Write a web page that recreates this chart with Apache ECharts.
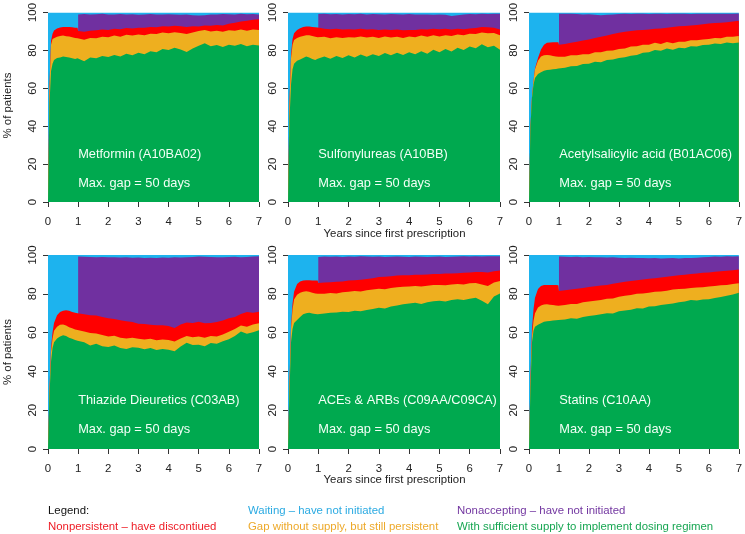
<!DOCTYPE html>
<html>
<head>
<meta charset="utf-8">
<script src="https://cdn.jsdelivr.net/npm/echarts@6/dist/echarts.min.js"></script>
<style>
html,body{margin:0;padding:0;background:#fff;}
#chart{width:745px;height:534px;}
</style>
</head>
<body>
<div id="chart"></div>
<script>
// ---------- data ----------
const xTicks = [0, 1, 2, 3, 4, 5, 6, 7];
const yTicks = [0, 20, 40, 60, 80, 100];
const xs = [0,0.05,0.1,0.15,0.2,0.3,0.4,0.5,0.6,0.7,0.8,0.9,0.98,
  1,1.2,1.4,1.6,1.8,2,2.2,2.4,2.6,2.8,3,3.2,3.4,3.6,3.8,4,4.2,4.4,4.6,4.8,5,5.2,5.4,5.6,5.8,6,6.2,6.4,6.6,6.8,7];
const xsAfterYear1 = [1,1.2,1.4,1.6,1.8,2,2.2,2.4,2.6,2.8,3,3.2,3.4,3.6,3.8,4,4.2,4.4,4.6,4.8,5,5.2,5.4,5.6,5.8,6,6.2,6.4,6.6,6.8,7];
const total = 100;

// cumulative upper boundaries (% of patients)
const metforminSufficient = [0,52,69,73,75,76,76.3,76.8,76.5,76.2,75.8,75.4,75.8,
  75.5,74.3,76.2,75.8,77.0,76.5,77.6,76.8,78.2,77.4,78.8,78.0,79.6,79.0,80.8,80.2,81.4,80.5,79.2,81.0,82.5,83.8,82.2,82.8,81.8,83.0,82.4,83.4,82.2,83.0,82.6];
const metforminGap = [0,60,83,86,86.5,87.2,87.6,87.8,87.5,87.3,87.0,86.6,86.4,
  86.0,85.6,86.6,86.4,87.2,87.0,87.8,87.2,88.2,87.8,88.4,88.0,88.8,88.6,89.4,89.0,89.6,89.2,88.6,89.4,90.2,90.8,90.0,90.4,89.8,90.6,90.4,91.0,90.4,91.0,90.8];
const metforminNonpersistent = [0,62,85,88.8,90.5,91.6,92.1,92.3,92.4,92.3,92.2,92.0,91.9,
  90.2,89.8,90.4,90.6,91.0,90.8,91.4,91.2,91.8,91.6,92.0,92.0,92.4,92.2,92.8,92.6,93.0,92.8,92.4,92.8,92.6,93.2,93.0,93.4,93.2,94.0,94.6,95.2,95.6,96.2,96.4];
const metforminNonaccepting = [99.0,99.2,99.0,99.1,99.3,99.0,98.9,99.2,99.0,99.1,98.8,99.0,99.2,99.0,98.9,99.1,99.0,98.8,98.9,98.6,98.4,98.6,98.9,99.0,99.2,99.1,99.0,99.3,99.1,99.2,99.0];

const sulfoSufficient = [0,44,62,70,73,74.5,75.2,76,76.8,76.2,75.5,75.0,75.6,
  75.8,76.8,75.6,77.0,76.0,77.4,76.2,77.8,76.6,78.0,77.0,78.6,77.4,78.8,77.6,79.0,78.0,79.6,78.2,80.4,79.0,80.8,79.4,81.4,80.2,82.0,81.2,83.2,81.6,82.4,80.4];
const sulfoGap = [0,52,76,83,85.5,86.6,87.2,87.6,88.0,88.0,87.6,87.2,87.0,
  87.0,87.2,86.4,87.0,86.6,87.0,86.8,87.4,86.8,87.2,86.6,87.4,86.8,87.2,86.6,87.4,87.0,87.8,87.2,88.0,87.4,88.0,87.6,88.4,88.0,88.8,88.6,89.4,89.0,89.2,88.0];
const sulfoNonpersistent = [0,54,78,86,89,90.8,91.7,92.3,92.6,92.6,92.4,92.2,92.1,
  91.5,91.4,91.2,91.4,91.0,91.2,91.0,91.4,91.0,91.2,90.8,91.0,90.8,91.0,90.6,90.8,90.8,91.2,91.0,91.4,91.2,91.4,91.0,91.4,91.2,91.6,91.8,92.4,92.2,92.0,91.0];
const sulfoNonaccepting = [99.2,99.3,99.1,99.2,99.0,99.2,99.1,99.3,99.0,99.2,99.1,99.0,99.2,99.1,99.0,99.2,99.0,98.9,99.0,98.8,98.9,98.8,98.2,98.6,99.0,99.2,99.1,99.3,99.2,99.4,99.3];

const asaSufficient = [0,40,55,62,65.5,67.5,68.5,69.2,69.6,69.8,70.0,70.2,70.4,
  70.4,70.8,71.6,71.8,72.8,73.0,74.0,73.8,75.0,75.2,76.0,76.4,77.2,77.6,78.8,79.0,80.2,79.8,81.0,80.4,81.4,81.2,82.2,82.0,82.8,83.0,83.6,83.4,84.2,83.8,84.2];
const asaGap = [0,40,56,64,70,74.5,76.8,77.4,77.6,77.4,77.0,76.8,76.6,
  76.5,76.6,77.4,77.4,78.0,78.0,79.0,79.0,79.8,80.0,80.8,81.0,82.0,82.2,83.0,83.0,84.0,83.4,84.4,83.8,84.6,84.6,85.4,85.4,85.8,86.0,86.6,86.4,87.2,87.2,87.6];
const asaNonpersistent = [0,40,56,64,70.5,76,80.5,83,84,84.2,84.3,84.3,84.3,
  83.0,83.4,84.0,84.6,85.2,85.8,86.6,87.2,87.8,88.6,89.3,89.8,90.2,90.6,90.8,91.0,91.4,91.6,92.0,92.4,92.7,92.9,93.2,93.4,93.8,94.2,94.5,94.6,94.9,95.2,95.6];
const asaNonaccepting = [99.4,99.3,99.4,99.2,99.0,99.1,98.8,98.5,98.8,99.0,99.2,99.3,99.2,99.4,99.3,99.2,99.4,99.3,99.2,99.3,99.4,99.3,99.2,99.4,99.3,99.4,99.3,99.4,99.3,99.4,99.5];

const thiazideSufficient = [0,28,45,52,55,57,58,58.6,58.2,57.4,56.8,56.2,55.8,
  56.0,55.0,53.4,54.2,53.0,52.6,53.4,52.0,51.6,52.4,52.2,51.4,52.0,51.0,51.6,51.2,50.4,52.8,54.8,53.6,53.8,53.0,54.6,54.2,55.6,56.6,58.2,60.6,59.4,60.2,61.2];
const thiazideGap = [0,30,50,57,61,63,64,64.2,63.6,62.8,62.2,61.6,61.3,
  61.2,60.6,59.8,59.6,58.8,58.0,58.4,57.4,57.0,57.4,56.8,56.4,56.8,56.0,56.4,56.2,55.4,57.0,58.2,57.6,58.0,57.4,58.2,58.0,59.0,60.4,61.8,63.6,63.0,64.2,64.8];
const thiazideNonpersistent = [0,31,52,60,65,69,70.6,71.2,71.5,71.2,70.6,70.2,70.0,
  69.8,69.4,69.0,68.8,68.0,67.4,67.0,66.4,65.8,65.4,64.6,64.4,64.0,63.8,63.8,63.4,62.4,64.2,65.2,65.0,65.6,64.8,65.0,65.4,66.2,67.4,68.0,69.6,70.6,70.2,70.8];
const thiazideNonaccepting = [99.2,99.1,99.0,98.9,99.0,98.8,98.9,98.7,98.8,98.6,98.7,98.5,98.6,98.5,98.7,98.6,98.8,98.7,98.9,99.0,99.2,99.1,99.0,98.8,98.9,99.0,99.1,98.9,99.0,99.2,99.3];

const aceSufficient = [0,30,55,62,65,66.5,68,69.4,70,70.2,69.8,69.6,69.4,
  69.4,69.8,70.2,70.4,70.8,70.6,71.2,71.0,71.6,72.2,72.8,72.4,73.4,74.0,74.6,75.0,75.4,74.8,75.6,76.2,76.4,76.0,76.8,77.2,76.8,77.4,78.0,76.4,74.6,78.6,80.2];
const aceGap = [0,34,62,72,77,79.5,80.6,81.1,81.3,81.0,80.6,80.2,80.0,
  79.8,80.0,80.4,80.2,80.8,81.0,81.4,81.2,81.8,82.2,82.6,82.4,83.0,83.4,83.6,83.8,84.0,83.8,84.2,84.6,84.6,84.4,84.8,85.0,84.8,85.4,85.6,84.8,84.0,85.8,86.6];
const aceNonpersistent = [0,35,63,75,81,85,86.3,86.8,87.0,87.0,86.9,86.8,86.8,
  85.6,85.8,86.0,86.2,86.4,86.8,87.0,87.2,87.6,88.0,88.6,88.8,89.0,89.4,89.5,89.6,89.8,89.8,90.0,90.2,90.2,90.4,90.5,90.6,90.8,91.0,91.2,91.2,91.0,91.6,92.0];
const aceNonaccepting = [99.0,99.2,99.1,99.2,99.0,99.2,99.1,99.3,99.2,99.1,99.2,99.0,99.1,99.2,99.1,99.0,99.2,99.1,99.0,99.1,99.2,99.0,99.1,99.2,99.3,99.2,99.3,99.2,99.4,99.3,99.4];

const statinSufficient = [0,32,55,61,63,64,64.8,65.6,65.8,66.0,66.2,66.4,66.5,
  66.5,66.8,67.4,67.2,68.0,68.6,69.0,69.4,70.0,69.8,71.0,71.4,71.8,72.6,72.4,73.4,73.6,74.2,74.6,75.0,75.6,76.0,76.8,76.6,77.0,77.2,77.8,78.4,79.0,79.6,80.6];
const statinGap = [0,36,58,66,70,73,74,74.5,74.6,74.4,74.2,74.0,73.9,
  73.9,74.2,74.8,74.8,75.6,76.0,76.4,76.8,77.4,77.6,78.5,79.0,79.4,80.0,80.2,80.6,81.0,81.2,81.6,82.2,82.5,82.6,83.0,83.2,83.4,83.7,84.0,84.4,84.6,85.0,85.4];
const statinNonpersistent = [0,38,62,72,78,82.5,84,84.5,84.6,84.6,84.5,84.5,84.4,
  81.5,81.8,82.2,82.6,83.0,83.5,83.9,84.3,84.6,85.2,85.7,86.2,86.6,87.0,87.4,87.8,88.0,88.4,88.8,89.2,89.5,89.8,90.2,90.4,90.8,91.0,91.4,91.6,91.9,92.2,92.5];
const statinNonaccepting = [99.2,99.1,99.0,99.1,98.9,99.0,98.8,98.9,98.7,98.8,98.6,98.5,98.6,98.4,98.5,98.3,98.4,98.2,98.3,98.4,98.2,98.5,98.4,98.6,98.8,99.0,99.2,99.1,99.3,99.2,99.4];

const panelNames = ['Metformin (A10BA02)', 'Sulfonylureas (A10BB)', 'Acetylsalicylic acid (B01AC06)',
  'Thiazide Dieuretics (C03AB)', 'ACEs & ARBs (C09AA/C09CA)', 'Statins (C10AA)'];
const gapNote = 'Max. gap = 50 days';
const legendTitle = 'Legend:';
const stateNames = ['Waiting \u2013 have not initiated', 'Nonaccepting \u2013 have not initiated',
  'Nonpersistent \u2013 have discontiued', 'Gap without supply, but still persistent',
  'With sufficient supply to implement dosing regimen'];

const panels = [
  [metforminNonaccepting, metforminNonpersistent, metforminGap, metforminSufficient],
  [sulfoNonaccepting, sulfoNonpersistent, sulfoGap, sulfoSufficient],
  [asaNonaccepting, asaNonpersistent, asaGap, asaSufficient],
  [thiazideNonaccepting, thiazideNonpersistent, thiazideGap, thiazideSufficient],
  [aceNonaccepting, aceNonpersistent, aceGap, aceSufficient],
  [statinNonaccepting, statinNonpersistent, statinGap, statinSufficient]
];

// ---------- style / layout ----------
const fillColors = ['#1DB3EE', '#7030A0', '#FF0000', '#EEAF1F', '#00A94F'];
const textColors = ['#2AAAE2', '#7236A0', '#EE1C25', '#EDA92A', '#17A652'];
const FONT = '"Liberation Sans", Arial, Helvetica, sans-serif';
const colLeft = [48, 288, 529];
const colWidth = [211, 212, 212];
const rowTop = [9, 255];
const rowHeight = [193, 194];

const grids = [], xAxes = [], yAxes = [], series = [], graphics = [];
for (let i = 0; i < 6; i++) {
  const r = Math.floor(i / 3), c = i % 3;
  grids.push({left: colLeft[c], top: rowTop[r], width: colWidth[c], height: rowHeight[r], containLabel: false});
  xAxes.push({
    gridIndex: i, type: 'value', min: xTicks[0], max: xTicks[xTicks.length - 1], interval: 1,
    axisLine: {show: false}, splitLine: {show: false},
    axisTick: {show: true, length: 5, lineStyle: {color: '#333', width: 1}},
    axisLabel: {fontFamily: FONT, fontSize: 11.4, color: '#222', margin: 14}
  });
  yAxes.push({
    gridIndex: i, type: 'value', min: yTicks[0], max: yTicks[yTicks.length - 1], interval: 20,
    axisLine: {show: false}, splitLine: {show: false},
    axisTick: {show: true, length: 5, lineStyle: {color: '#333', width: 1}},
    axisLabel: {fontFamily: FONT, fontSize: 11.4, color: '#222', rotate: 90, margin: 10}
  });
  const base = {type: 'line', xAxisIndex: i, yAxisIndex: i, symbol: 'none', silent: true,
    animation: false, lineStyle: {width: 0}};
  series.push(Object.assign({}, base, {
    name: stateNames[0], data: [[xTicks[0], total], [xTicks[xTicks.length - 1], total]],
    areaStyle: {color: fillColors[0], opacity: 1}
  }));
  const [na, np, gp, sf] = panels[i];
  series.push(Object.assign({}, base, {
    name: stateNames[1], data: xsAfterYear1.map((x, k) => [x, na[k]]),
    areaStyle: {color: fillColors[1], opacity: 1}
  }));
  [[np, 2], [gp, 3], [sf, 4]].forEach(([arr, ci]) => {
    series.push(Object.assign({}, base, {
      name: stateNames[ci], data: xs.map((x, k) => [x, arr[k]]),
      areaStyle: {color: fillColors[ci], opacity: 1}
    }));
  });
  const x1 = colLeft[c] + colWidth[c] / 7;
  graphics.push({type: 'text', x: x1, y: rowTop[r] + 145, silent: true, z: 100,
    style: {text: panelNames[i], fill: '#F2FFF6', font: '12.8px ' + FONT, verticalAlign: 'middle', textVerticalAlign: 'middle'}});
  graphics.push({type: 'text', x: x1, y: rowTop[r] + 174, silent: true, z: 100,
    style: {text: gapNote, fill: '#F2FFF6', font: '12.8px ' + FONT, verticalAlign: 'middle', textVerticalAlign: 'middle'}});
}
// axis titles
[105.5, 352].forEach(y => graphics.push({type: 'text', x: 8, y: y, rotation: Math.PI / 2, silent: true,
  style: {text: '% of patients', fill: '#222', font: '11.4px ' + FONT, align: 'center', verticalAlign: 'middle',
    textAlign: 'center', textVerticalAlign: 'middle'}}));
[233.5, 480].forEach(y => graphics.push({type: 'text', x: 394.5, y: y, silent: true,
  style: {text: 'Years since first prescription', fill: '#222', font: '11.4px ' + FONT, align: 'center',
    verticalAlign: 'middle', textAlign: 'center', textVerticalAlign: 'middle'}}));
// legend
const legendItems = [
  [legendTitle, '#111', 48, 511], [stateNames[0], textColors[0], 248, 511], [stateNames[1], textColors[1], 457, 511],
  [stateNames[2], textColors[2], 48, 527], [stateNames[3], textColors[3], 248, 527], [stateNames[4], textColors[4], 457, 527]
];
legendItems.forEach(([t, col, x, y]) => graphics.push({type: 'text', x: x, y: y, silent: true,
  style: {text: t, fill: col, font: '11.4px ' + FONT, verticalAlign: 'middle', textVerticalAlign: 'middle'}}));

const chart = echarts.init(document.getElementById('chart'), null, {renderer: 'canvas'});
chart.setOption({
  animation: false,
  grid: grids, xAxis: xAxes, yAxis: yAxes, series: series, graphic: graphics
});
</script>
</body>
</html>
